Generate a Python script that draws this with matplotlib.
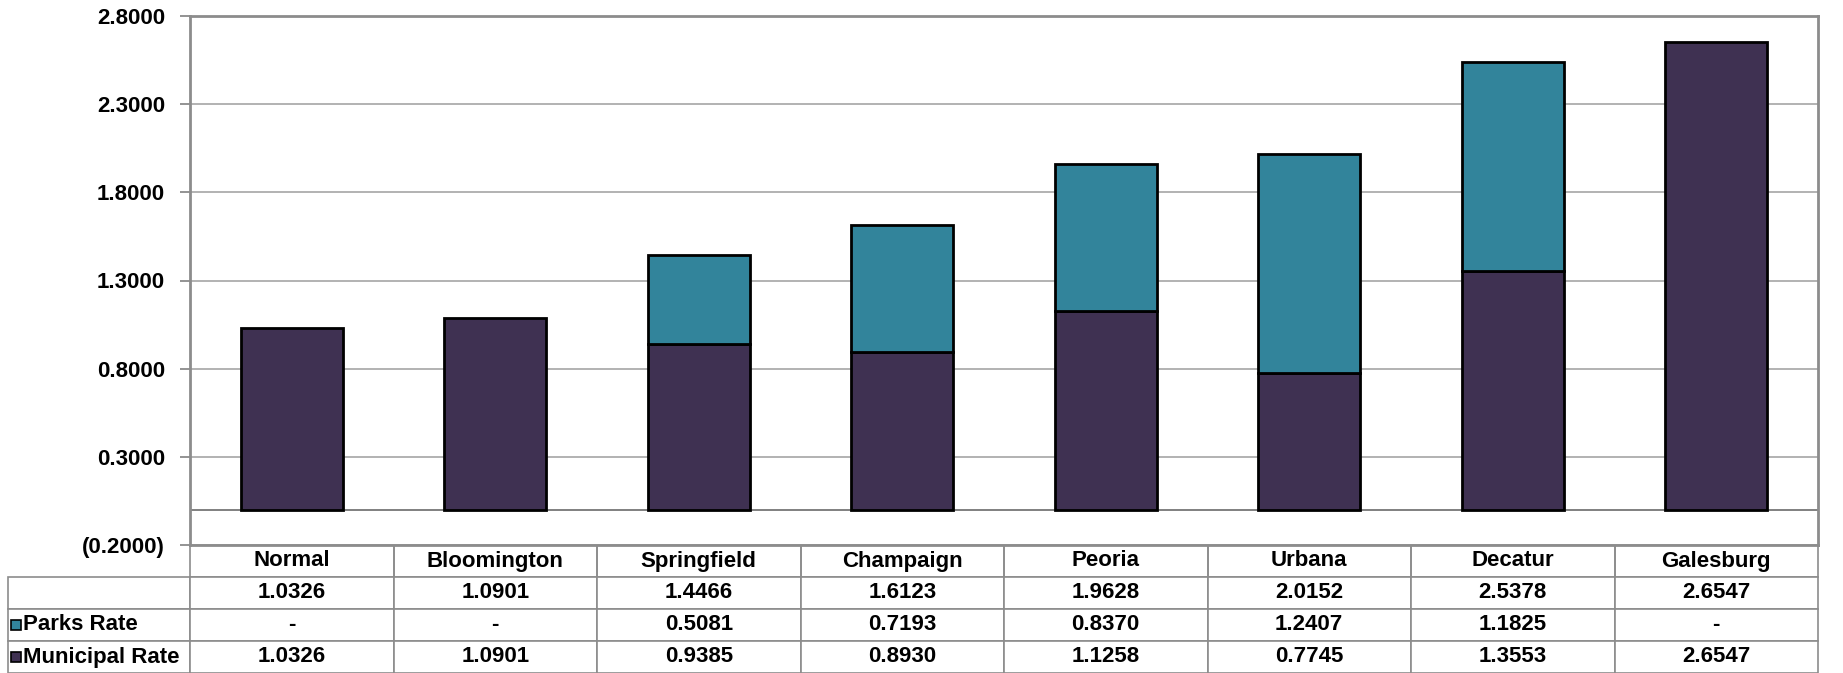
import matplotlib.pyplot as plt
from matplotlib.patches import Rectangle
import numpy as np

plt.rcParams['font.family'] = ['Liberation Sans', 'DejaVu Sans']
plt.rcParams['font.weight'] = 'bold'

cities = ['Normal', 'Bloomington', 'Springfield', 'Champaign', 'Peoria', 'Urbana', 'Decatur', 'Galesburg']
municipal = [1.0326, 1.0901, 0.9385, 0.8930, 1.1258, 0.7745, 1.3553, 2.6547]
parks = [0.0, 0.0, 0.5081, 0.7193, 0.8370, 1.2407, 1.1825, 0.0]
totals = [1.0326, 1.0901, 1.4466, 1.6123, 1.9628, 2.0152, 2.5378, 2.6547]
yticks = [-0.2, 0.3, 0.8, 1.3, 1.8, 2.3, 2.8]

col_municipal = '#3f3152'
col_parks = '#32849b'
grid_col = '#a6a6a6'
fs = 16


def fmt(v):
    if v == 0:
        return '-'
    if v < 0:
        return f'({-v:.4f})'
    return f'{v:.4f}'


fig = plt.figure(figsize=(18.43, 6.73), dpi=100)
ax = fig.add_axes([190 / 1843, 128 / 673, 1628 / 1843, 529 / 673])

x = np.arange(len(cities))
ax.bar(x, municipal, width=0.5, color=col_municipal, edgecolor='black', linewidth=2, zorder=3)
parks_arr = np.array(parks)
has = parks_arr > 0
ax.bar(x[has], parks_arr[has], bottom=np.array(municipal)[has], width=0.5,
       color=col_parks, edgecolor='black', linewidth=2, zorder=3)

ax.set_xlim(-0.5, len(cities) - 0.5)
ax.set_ylim(-0.2, 2.8)
ax.set_yticks(yticks)
ax.set_yticklabels([fmt(t) for t in yticks], fontsize=fs, fontweight='bold')
ax.set_xticks([])
ax.yaxis.grid(True, color=grid_col, linewidth=1.2, zorder=0)
ax.axhline(0, color='#808080', linewidth=1.4, zorder=1)
ax.tick_params(axis='y', length=7, width=1.2, color='#808080', pad=11)
for s in ax.spines.values():
    s.set_color('#8c8c8c')
    s.set_linewidth(2)

# data table under the plot
cell_text = [[''] + cities,
             [''] + [fmt(v) for v in totals],
             ['Parks Rate'] + [fmt(v) for v in parks],
             ['Municipal Rate'] + [fmt(v) for v in municipal]]
left_px = 8
tbl = ax.table(cellText=cell_text, cellLoc='center',
               colWidths=[182] + [1628 / 8] * 8,
               bbox=[(left_px - 190) / 1628, -128 / 529, (1818 - left_px) / 1628, 128 / 529])
tbl.auto_set_font_size(False)
for (r, c), cell in tbl.get_celld().items():
    cell.set_edgecolor('#8c8c8c')
    cell.set_linewidth(1.2)
    cell.get_text().set_fontsize(fs)
    cell.get_text().set_fontweight('bold')
    if c == 0:
        cell.get_text().set_ha('left')
        cell._loc = 'left'
        cell.PAD = 0.08
        if r == 0:
            cell.visible_edges = ''
    if r == 0 and c > 0:
        cell.visible_edges = 'BLR'

# legend keys in the row labels
for r, colr in [(2, col_parks), (3, col_municipal)]:
    yc = 1 - (545 + 32 * r + 16) / 673
    fig.patches.append(Rectangle((11 / 1843, yc - 5 / 673), 10 / 1843, 10 / 673,
                                 transform=fig.transFigure, facecolor=colr,
                                 edgecolor='black', linewidth=1.2))

fig.savefig('out.png', dpi=100)
